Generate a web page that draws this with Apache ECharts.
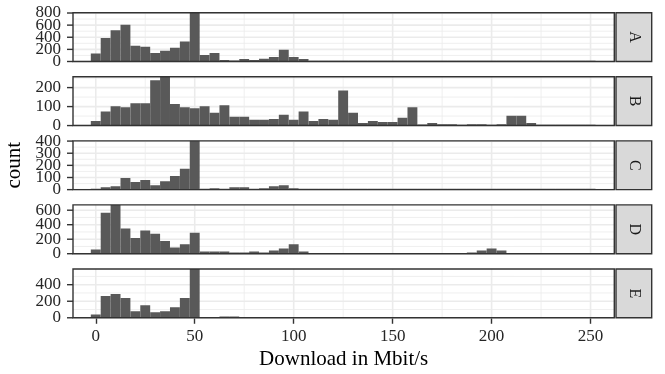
<!DOCTYPE html>
<html>
<head>
<meta charset="utf-8">
<script src="https://cdn.jsdelivr.net/npm/echarts@6.0.0/dist/echarts.min.js"></script>
<style>
  html, body { margin: 0; padding: 0; background: #fff; }
  #chart { width: 665px; height: 374px; }
</style>
</head>
<body>
<div id="chart"></div>
<script>
// facet names (one panel each)
const panels = ['A', 'B', 'C', 'D', 'E'];

// histogram bins: centres in Mbit/s, 5 Mbit/s wide
const binWidth = 5;
const binMid = [0, 5, 10, 15, 20, 25, 30, 35, 40, 45,
                50, 55, 60, 65, 70, 75, 80, 85, 90, 95,
                100, 105, 110, 115, 120, 125, 130, 135, 140, 145,
                150, 155, 160, 165, 170, 175, 180, 185, 190, 195,
                200, 205, 210, 215, 220, 225, 230, 235, 240, 245,
                250];

// counts per bin
const countA = [130, 386, 516, 607, 261, 244, 142, 176, 227, 329,
                805, 108, 142, 23, 17, 40, 23, 45, 74, 193,
                74, 40, 6, 4, 3, 3, 2, 2, 2, 2,
                2, 2, 2, 1, 1, 1, 1, 1, 1, 1,
                2, 1, 1, 1, 1, 1, 1, 1, 1, 1,
                1];
const countB = [24, 74, 102, 96, 118, 118, 239, 257, 113, 96,
                91, 102, 68, 107, 46, 46, 30, 30, 35, 57,
                30, 74, 24, 35, 30, 185, 68, 13, 24, 19,
                19, 41, 96, 6, 13, 7, 7, 2, 7, 7,
                2, 7, 52, 52, 13, 2, 2, 1, 1, 1,
                1];
const countC = [3, 20, 28, 96, 62, 79, 37, 70, 113, 172,
                402, 3, 11, 3, 20, 20, 3, 11, 28, 37,
                11, 3, 2, 1, 1, 1, 1, 1, 1, 1,
                1, 1, 1, 1, 1, 1, 1, 1, 1, 1,
                1, 1, 1, 1, 1, 1, 1, 1, 1, 1,
                1];
const countD = [58, 566, 673, 348, 218, 319, 276, 174, 87, 131,
                290, 29, 29, 29, 15, 15, 29, 15, 44, 73,
                131, 29, 5, 3, 3, 3, 2, 2, 2, 2,
                2, 2, 2, 2, 2, 2, 3, 4, 15, 44,
                73, 44, 3, 2, 1, 1, 1, 1, 1, 1,
                1];
const countE = [41, 264, 289, 239, 78, 152, 66, 78, 128, 239,
                590, 4, 4, 16, 16, 3, 1, 1, 1, 1,
                1, 1, 1, 1, 1, 1, 1, 1, 1, 1,
                1, 1, 1, 1, 1, 1, 1, 1, 1, 1,
                1, 1, 1, 1, 1, 1, 1, 1, 1, 1,
                1];

// tick labels
const xTicks = [0, 50, 100, 150, 200, 250];
const xMinor = [25, 75, 125, 175, 225];
const yTicksA = [0, 200, 400, 600, 800];
const yTicksB = [0, 100, 200];
const yTicksC = [0, 100, 200, 300, 400];
const yTicksD = [0, 200, 400, 600];
const yTicksE = [0, 200, 400];

const counts = [countA, countB, countC, countD, countE];
const yTicks = [yTicksA, yTicksB, yTicksC, yTicksD, yTicksE];

// layout (px)
const FONT = 'Liberation Serif';
const PANEL_LEFT = 73, PANEL_W = 541.3;
const PANEL_TOP = 12.7, PANEL_STEP = 64.07, PANEL_H = 48.8;
const STRIP_LEFT = 616, STRIP_W = 35.7;
const X_MIN = -11.5, X_MAX = 262;
const BAR_COL = '#595959', GRID_COL = '#EBEBEB', EDGE_COL = '#333333';
const LABEL_COL = '#262626';
const TICK_LEN = 6, LABEL_GAP = 12, TICK_FONT = 17;

function renderBar(params, api) {
  const top = api.coord([api.value(0), api.value(2)]);
  const bot = api.coord([api.value(1), 0]);
  let h = bot[1] - top[1];
  if (h < 0.8) h = 0.8; // near-empty bins still leave a hairline
  return {
    type: 'rect',
    shape: { x: top[0], y: bot[1] - h, width: bot[0] - top[0], height: h },
    style: { fill: BAR_COL }
  };
}

function gridLineRenderer(vertical, width) {
  return function (params, api) {
    const cs = params.coordSys;
    const p = api.coord([api.value(0), api.value(1)]);
    const shape = vertical
      ? { x1: p[0], y1: cs.y, x2: p[0], y2: cs.y + cs.height }
      : { x1: cs.x, y1: p[1], x2: cs.x + cs.width, y2: p[1] };
    return { type: 'line', shape: shape, style: { stroke: GRID_COL, lineWidth: width } };
  };
}

// y tick mark + label, positioned by the y scale (labels may overlap like the original)
function renderYTick(params, api) {
  const v = api.value(1);
  const p = api.coord([api.value(0), v]);
  const x0 = params.coordSys.x;
  return {
    type: 'group',
    children: [
      { type: 'line', shape: { x1: x0 - TICK_LEN, y1: p[1], x2: x0, y2: p[1] },
        style: { stroke: EDGE_COL, lineWidth: 1.4 } },
      { type: 'text', x: x0 - LABEL_GAP, y: p[1],
        style: { text: String(v), align: 'right', verticalAlign: 'middle',
                 fontSize: TICK_FONT, fontFamily: FONT, fill: LABEL_COL } }
    ]
  };
}

const grids = [], xAxes = [], yAxes = [], series = [], graphics = [];

panels.forEach(function (name, i) {
  const top = PANEL_TOP + i * PANEL_STEP;
  const last = i === panels.length - 1;
  const ymax = Math.max.apply(null, counts[i]);
  const step = yTicks[i][1] - yTicks[i][0];
  const yMinor = yTicks[i].map(v => v + step / 2).filter(v => v < ymax);

  grids.push({ left: PANEL_LEFT, top: top, width: PANEL_W, height: PANEL_H, outerBoundsMode: 'none' });

  xAxes.push({
    type: 'value', gridIndex: i, min: X_MIN, max: X_MAX, position: 'bottom',
    axisLine: { show: false, onZero: false }, splitLine: { show: false },
    axisTick: { show: last, interval: 0, customValues: xTicks, length: TICK_LEN, lineStyle: { color: EDGE_COL, width: 1.4 } },
    axisLabel: { show: last, interval: 0, customValues: xTicks, showMinLabel: true, showMaxLabel: true,
                 margin: 10, fontSize: TICK_FONT, color: LABEL_COL, fontFamily: FONT }
  });

  yAxes.push({
    type: 'value', gridIndex: i, min: 0, max: ymax, position: 'left',
    axisLine: { show: false, onZero: false }, splitLine: { show: false },
    axisTick: { show: false }, axisLabel: { show: false }
  });

  const common = { type: 'custom', xAxisIndex: i, yAxisIndex: i, silent: true, z: 1 };
  series.push(Object.assign({}, common, {
    renderItem: gridLineRenderer(true, 0.8), encode: { x: 0, y: 1 },
    data: xMinor.map(v => [v, 0])
  }));
  series.push(Object.assign({}, common, {
    renderItem: gridLineRenderer(false, 0.8), encode: { x: 0, y: 1 },
    data: yMinor.map(v => [0, v])
  }));
  series.push(Object.assign({}, common, {
    renderItem: gridLineRenderer(true, 1.6), encode: { x: 0, y: 1 },
    data: xTicks.map(v => [v, 0])
  }));
  series.push(Object.assign({}, common, {
    renderItem: gridLineRenderer(false, 1.6), encode: { x: 0, y: 1 },
    data: yTicks[i].map(v => [0, v])
  }));
  series.push(Object.assign({}, common, {
    z: 5, renderItem: renderYTick, encode: { x: 0, y: 1 },
    data: yTicks[i].map(v => [0, v])
  }));

  series.push({
    type: 'custom', name: name, xAxisIndex: i, yAxisIndex: i, z: 2, clip: true,
    renderItem: renderBar,
    encode: { x: [0, 1], y: 2 },
    data: binMid.map((m, k) => [m - binWidth / 2, m + binWidth / 2, counts[i][k]])
  });

  // panel border
  graphics.push({
    type: 'rect', z: 10, silent: true,
    shape: { x: PANEL_LEFT, y: top, width: PANEL_W, height: PANEL_H },
    style: { fill: 'none', stroke: EDGE_COL, lineWidth: 1.4 }
  });
  // facet strip
  graphics.push({
    type: 'rect', z: 10, silent: true,
    shape: { x: STRIP_LEFT, y: top, width: STRIP_W, height: PANEL_H },
    style: { fill: '#D9D9D9', stroke: EDGE_COL, lineWidth: 1.4 }
  });
  graphics.push({
    type: 'text', z: 11, silent: true,
    x: STRIP_LEFT + STRIP_W / 2, y: top + PANEL_H / 2, rotation: -Math.PI / 2,
    style: { text: name, fontSize: 16, fontFamily: FONT, fill: '#1A1A1A', align: 'center', verticalAlign: 'middle' }
  });
});

// axis titles
graphics.push({
  type: 'text', z: 11, silent: true,
  x: 14, y: PANEL_TOP + (4 * PANEL_STEP + PANEL_H) / 2, rotation: Math.PI / 2,
  style: { text: 'count', fontSize: 21, fontFamily: FONT, fill: '#000', align: 'center', verticalAlign: 'middle' }
});
graphics.push({
  type: 'text', z: 11, silent: true,
  x: PANEL_LEFT + PANEL_W / 2, y: 359,
  style: { text: 'Download in Mbit/s', fontSize: 21, fontFamily: FONT, fill: '#000', align: 'center', verticalAlign: 'middle' }
});

const chart = echarts.init(document.getElementById('chart'), null, { renderer: 'canvas' });
chart.setOption({
  animation: false,
  backgroundColor: '#fff',
  grid: grids,
  xAxis: xAxes,
  yAxis: yAxes,
  series: series,
  graphic: { elements: graphics }
});
</script>
</body>
</html>
